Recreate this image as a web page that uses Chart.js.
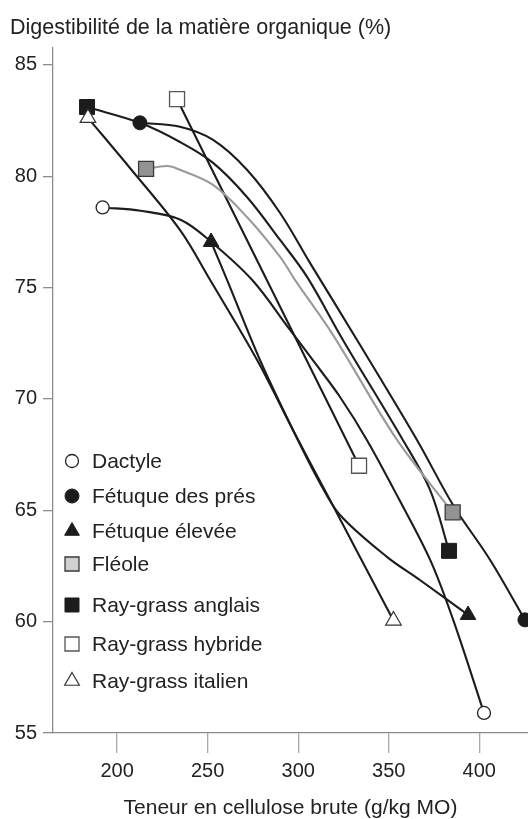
<!DOCTYPE html>
<html><head><meta charset="utf-8">
<script src="https://cdn.jsdelivr.net/npm/chart.js@4/dist/chart.umd.min.js"></script>
<style>html,body{margin:0;padding:0;background:#fff}#wrap{width:528px;height:819px}</style>
</head><body><div id="wrap"><canvas id="c" width="528" height="819"></canvas></div>
<script>
// ---- data ----
const xTicks = [200, 250, 300, 350, 400];
const yTicks = [55, 60, 65, 70, 75, 80, 85];
const seriesNames = ['Dactyle', 'Fétuque des prés', 'Fétuque élevée', 'Fléole', 'Ray-grass anglais', 'Ray-grass hybride', 'Ray-grass italien'];

const dactyleX = [192, 213, 235, 252, 274.5, 295.5, 308, 323, 338, 356, 373, 385.5, 402.6];
const dactyleY = [78.6, 78.45, 78.05, 77.05, 75.35, 73.1, 71.75, 70.1, 68.15, 65.45, 62.75, 60.1, 55.9];

const fetPresX = [212.6, 234.7, 253, 271.7, 290, 306.5, 332.5, 365.6, 385.5, 406, 425.2];
const fetPresY = [82.4, 82.22, 81.63, 80.29, 78.35, 76.11, 72.65, 68.16, 65.24, 62.77, 60.08];

const fetElevX = [251.9, 260.7, 278.9, 297.1, 312, 323.1, 349, 367.2, 393.8];
const fetElevY = [77.05, 75.35, 71.75, 68.61, 66.23, 64.79, 62.91, 61.87, 60.3];

const fleoleX = [216, 227.6, 234.7, 253, 271.7, 290, 298.2, 319.2, 354.6, 385.3];
const fleoleY = [80.33, 80.46, 80.29, 79.61, 78.17, 76.38, 75.35, 72.88, 68.16, 64.91];

const rgAnglaisX = [183.4, 212.6, 234.7, 253, 271.7, 290, 304.9, 324.7, 357.8, 372.8, 383.3];
const rgAnglaisY = [83.11, 82.4, 81.54, 80.6, 79.07, 77.14, 75.48, 72.65, 68.16, 65.92, 63.18];

const rgHybrideX = [233.1, 333.6];
const rgHybrideY = [83.46, 67.0];

const rgItalienX = [183.9, 207.1, 234.7, 251.3, 277.3, 297.1, 317.5, 352.6];
const rgItalienY = [82.62, 80.37, 77.59, 75.35, 71.75, 68.61, 65.47, 60.05];

// ---- styling ----
const FONT = "'Liberation Sans', Arial, Helvetica, sans-serif";
const TXT = '#222';
const INK = '#1c1c1c';
Chart.defaults.font.family = FONT;

function pts(xs, ys) { return xs.map((x, i) => ({x: x, y: ys[i]})); }
function endsOnly(r) { return c => (c.dataIndex === 0 || c.dataIndex === c.dataset.data.length - 1) ? r : 0; }

const styles = [
  {line: INK, ps: 'circle', r: 6.5, bg: '#fff', bc: '#222', bw: 1.3, order: 7, legBg: '#fff', legR: 6.5},
  {line: INK, ps: 'circle', r: 7, bg: INK, bc: INK, bw: 1, order: 3, legBg: INK, legR: 7},
  {line: INK, ps: 'triangle', r: 9, bg: INK, bc: INK, bw: 1, order: 2, legBg: INK, legR: 8.5},
  {line: '#9a9a9a', ps: 'rect', r: 10.6, bg: '#939393', bc: '#3a3a3a', bw: 1.3, order: 1, legBg: '#d0d0d0', legR: 9.9},
  {line: INK, ps: 'rect', r: 10.6, bg: INK, bc: INK, bw: 1, order: 6, legBg: INK, legR: 9.9},
  {line: INK, ps: 'rect', r: 10.6, bg: '#fff', bc: '#555', bw: 1.3, order: 5, legBg: '#fff', legR: 9.9},
  {line: INK, ps: 'triangle', r: 9, bg: '#fff', bc: '#333', bw: 1.2, order: 4, legBg: '#fff', legR: 8.5}
];
const seriesData = [
  pts(dactyleX, dactyleY), pts(fetPresX, fetPresY), pts(fetElevX, fetElevY), pts(fleoleX, fleoleY),
  pts(rgAnglaisX, rgAnglaisY), pts(rgHybrideX, rgHybrideY), pts(rgItalienX, rgItalienY)
];

const datasets = seriesNames.map((name, i) => {
  const s = styles[i];
  return {
    label: name, data: seriesData[i], order: s.order,
    borderColor: s.line, borderWidth: 2.1, fill: false,
    tension: 0.35, clip: false,
    pointStyle: s.ps, pointRadius: endsOnly(s.r), pointHoverRadius: endsOnly(s.r),
    pointBackgroundColor: s.bg, pointBorderColor: s.bc, pointBorderWidth: s.bw
  };
});

function drawMarker(ctx, style, x, y, r, fill, stroke, lw) {
  ctx.beginPath();
  if (style === 'circle') {
    ctx.arc(x, y, r, 0, Math.PI * 2);
  } else if (style === 'rect') {
    const s = r * Math.SQRT1_2;
    ctx.rect(x - s, y - s, 2 * s, 2 * s);
  } else {
    let a = 0;
    ctx.moveTo(x + Math.sin(a) * r, y - Math.cos(a) * r);
    a += 2 * Math.PI / 3; ctx.lineTo(x + Math.sin(a) * r, y - Math.cos(a) * r);
    a += 2 * Math.PI / 3; ctx.lineTo(x + Math.sin(a) * r, y - Math.cos(a) * r);
  }
  ctx.closePath();
  ctx.fillStyle = fill; ctx.fill();
  ctx.lineWidth = lw; ctx.strokeStyle = stroke; ctx.stroke();
}

const inlineLegend = {
  id: 'inlineLegend',
  afterDraw(chart) {
    const ctx = chart.ctx;
    const markerX = 72, textX = 92;
    const rowY = [461, 496, 531, 564, 605, 644, 681];
    ctx.save();
    ctx.font = '21px ' + FONT;
    ctx.textBaseline = 'middle';
    ctx.textAlign = 'left';
    seriesNames.forEach((name, i) => {
      const s = styles[i];
      drawMarker(ctx, s.ps, markerX, rowY[i], s.legR, s.legBg, s.bc, s.bw);
      ctx.fillStyle = TXT;
      ctx.fillText(name, textX, rowY[i] + 1);
    });
    ctx.restore();
  }
};

new Chart(document.getElementById('c'), {
  type: 'line',
  data: {datasets: datasets},
  plugins: [inlineLegend],
  options: {
    responsive: false, animation: false, devicePixelRatio: 1,
    layout: {autoPadding: false, padding: {left: 10, right: 0, top: 0, bottom: 0}},
    plugins: {
      legend: {display: false},
      tooltip: {enabled: false},
      title: {
        display: true, text: 'Digestibilité de la matière organique (%)', align: 'start',
        color: TXT, font: {family: FONT, size: 21.5, weight: 'normal'},
        padding: {top: 15, bottom: 7.2}
      }
    },
    scales: {
      x: {
        type: 'linear', min: 164.6, max: 426.9,
        afterBuildTicks: a => { a.ticks = xTicks.map(v => ({value: v})); },
        afterFit: s => { s.height = 86; },
        grid: {drawOnChartArea: false, drawTicks: true, tickLength: 20, color: '#a8a8a8', lineWidth: 1.3},
        border: {display: true, color: '#8c8c8c', width: 1.3},
        ticks: {color: TXT, font: {size: 20}, padding: 6, maxRotation: 0, autoSkip: false},
        title: {display: true, text: 'Teneur en cellulose brute (g/kg MO)', color: TXT,
                font: {size: 21, lineHeight: 1}, padding: {top: 0, bottom: 0}}
      },
      y: {
        type: 'linear', min: 55, max: 85.76,
        afterBuildTicks: a => { a.ticks = yTicks.map(v => ({value: v})); },
        afterFit: s => { s.width = 43; },
        grid: {drawOnChartArea: false, drawTicks: true, tickLength: 10, color: '#8c8c8c', lineWidth: 1.3},
        border: {display: true, color: '#8c8c8c', width: 1.3},
        ticks: {color: TXT, font: {size: 20}, padding: 6}
      }
    }
  }
});
</script>
</body></html>
